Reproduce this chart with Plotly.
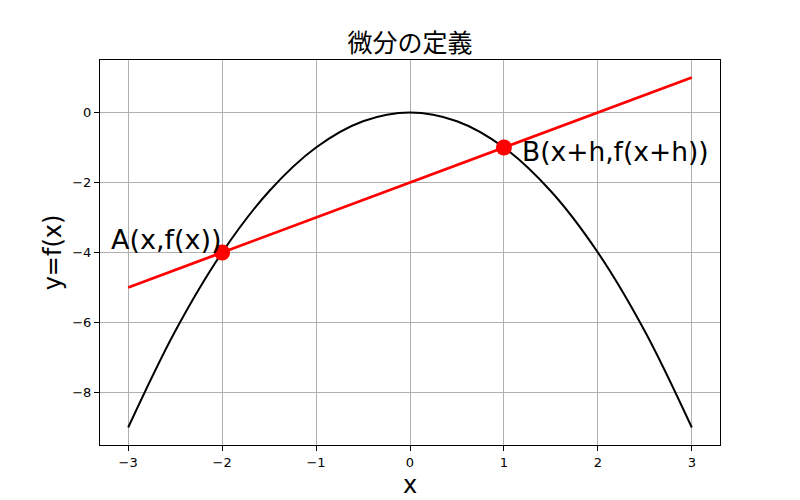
import plotly.graph_objects as go

# curve points (y = f(x))
curve_x = [-3, -2.5, -2, -1.5, -1, -0.5, 0, 0.5, 1, 1.5, 2, 2.5, 3]
curve_y = [-9, -6.25, -4, -2.25, -1, -0.25, 0, -0.25, -1, -2.25, -4, -6.25, -9]

# secant line through A and B
line_x = [-3, 3]
line_y = [-5, 1]

pt_x = [-2, 1]
pt_y = [-4, -1]
pt_labels = ['A(x,f(x))', 'B(x+h,f(x+h))']

x_ticks = [-3, -2, -1, 0, 1, 2, 3]
y_ticks = [-8, -6, -4, -2, 0]

fig = go.Figure()
fig.add_trace(go.Scatter(x=curve_x, y=curve_y, mode='lines',
                         line=dict(color='black', width=2, shape='spline', smoothing=1.0)))
fig.add_trace(go.Scatter(x=line_x, y=line_y, mode='lines',
                         line=dict(color='red', width=2.8)))
fig.add_trace(go.Scatter(x=pt_x, y=pt_y, mode='markers',
                         marker=dict(color='red', size=16)))

fig.add_annotation(x=pt_x[0], y=pt_y[0], text=pt_labels[0], showarrow=False,
                   xanchor='right', yanchor='bottom', yshift=-4, xshift=2,
                   font=dict(size=27, color='black'))
fig.add_annotation(x=pt_x[1] + 0.2, y=pt_y[1], text=pt_labels[1], showarrow=False,
                   xanchor='left', yanchor='top', yshift=14, xshift=-3,
                   font=dict(size=26.5, color='black'))

axis_common = dict(showline=True, linecolor='black', linewidth=1, mirror=True,
                   showgrid=True, gridcolor='#b0b0b0', gridwidth=0.8,
                   ticks='outside', ticklen=5, tickcolor='black',
                   zeroline=False, automargin=False,
                   tickfont=dict(size=13, color='black'))

fig.update_xaxes(range=[-3.3, 3.3], tickvals=x_ticks,
                 title=dict(text='x', font=dict(size=24, color='black'), standoff=7),
                 **axis_common)
fig.update_yaxes(range=[-9.5, 1.5], tickvals=y_ticks,
                 title=dict(text='y=f(x)', font=dict(size=24, color='black'), standoff=3),
                 **axis_common)

# page body has an 8px margin, so the figure is 792x492 and margins are shifted
fig.update_layout(width=792, height=492,
                  margin=dict(l=92, r=80, t=52, b=55),
                  plot_bgcolor='white', paper_bgcolor='white',
                  showlegend=False,
                  font=dict(family='DejaVu Sans', color='black'),
                  title=dict(text='微分の定義', xref='paper', x=0.5, xanchor='center',
                             y=0.929, yanchor='middle',
                             font=dict(family='Noto Sans CJK JP', size=25, color='black')))

fig.write_html("out.html")
